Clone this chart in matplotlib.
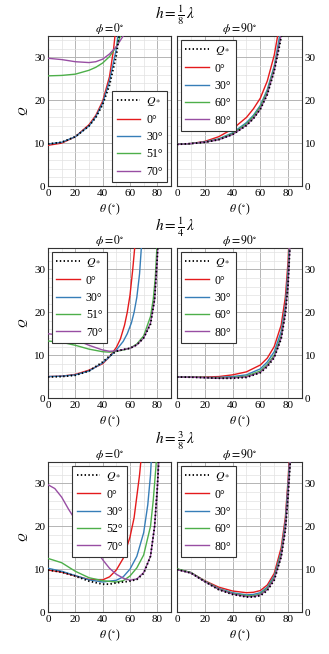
import matplotlib
matplotlib.use("Agg")
import matplotlib.pyplot as plt
from matplotlib.ticker import MultipleLocator

plt.rcParams['font.family'] = ['Liberation Serif', 'DejaVu Serif']
plt.rcParams['mathtext.fontset'] = 'stix'

# colours for the orientation curves
colors = ["#e41a1c", "#377eb8", "#4daf4a", "#984ea3"]

row_titles = [r"$h = \frac{1}{8}\,\lambda$", r"$h = \frac{1}{4}\,\lambda$",
              r"$h = \frac{3}{8}\,\lambda$"]
col_titles = [r"$\phi = 0^{\circ}$", r"$\phi = 90^{\circ}$"]

labels_phi0 = [["0°", "30°", "51°", "70°"],
               ["0°", "30°", "51°", "70°"],
               ["0°", "30°", "52°", "70°"]]
labels_phi90 = ["0°", "30°", "60°", "80°"]

# ---- h = 1/8 lambda, phi = 0
t1_qs = [0, 10, 20, 30, 35, 40, 45, 50, 52, 54]
q1_qs = [9.8, 10.2, 11.5, 14.0, 16.0, 19.0, 23.5, 30.5, 35, 40]
t1_c0 = [0, 10, 20, 30, 35, 40, 45, 48, 50]
q1_c0 = [9.5, 10.0, 11.5, 14.3, 16.5, 19.8, 25.5, 32, 38]
t1_c1 = [0, 10, 20, 30, 35, 40, 45, 50, 52]
q1_c1 = [9.8, 10.2, 11.5, 14.0, 16.2, 19.3, 24.5, 32, 37]
t1_c2 = [0, 10, 20, 30, 35, 40, 45, 50, 53, 55]
q1_c2 = [25.7, 25.8, 26.1, 27.0, 27.7, 28.7, 30.2, 32.5, 35, 37]
t1_c3 = [0, 10, 20, 30, 35, 40, 45, 50, 55, 57]
q1_c3 = [29.8, 29.5, 29.0, 28.8, 29.0, 29.6, 30.8, 32.5, 35, 37]

# ---- h = 1/8 lambda, phi = 90
t2_qs = [0, 10, 20, 30, 40, 50, 55, 60, 65, 70, 74, 77]
q2_qs = [9.7, 9.9, 10.2, 10.8, 12.0, 14.1, 15.7, 17.9, 21.3, 26.8, 33, 38]
t2_c0 = [0, 10, 20, 30, 40, 50, 55, 60, 65, 70, 73]
q2_c0 = [9.7, 9.9, 10.4, 11.5, 13.3, 16.0, 18.0, 20.5, 24.5, 30.5, 36]
t2_c1 = [0, 10, 20, 30, 40, 50, 55, 60, 65, 70, 75]
q2_c1 = [9.7, 9.9, 10.3, 11.0, 12.4, 14.8, 16.5, 18.8, 22.5, 28.0, 37]
t2_c2 = [0, 10, 20, 30, 40, 50, 55, 60, 65, 70, 75]
q2_c2 = [9.7, 9.9, 10.2, 10.9, 12.2, 14.5, 16.2, 18.5, 22.0, 27.5, 35.5]
t2_c3 = [0, 10, 20, 30, 40, 50, 55, 60, 65, 70, 76]
q2_c3 = [9.7, 9.9, 10.2, 10.8, 12.0, 14.2, 15.8, 18.0, 21.5, 27.0, 37]

# ---- h = 1/4 lambda, phi = 0
t3_qs = [0, 10, 20, 30, 40, 45, 50, 55, 60, 65, 70, 75, 78, 80, 81]
q3_qs = [4.9, 5.0, 5.3, 6.3, 8.4, 9.8, 10.9, 11.3, 11.6, 12.4, 14.0, 17.2, 23, 33, 40]
t3_c0 = [0, 10, 20, 30, 40, 45, 50, 53, 56, 58, 60, 62, 64]
q3_c0 = [5.0, 5.1, 5.5, 6.5, 8.0, 9.6, 11.8, 13.8, 17.0, 20.0, 24, 30, 37]
t3_c1 = [0, 10, 20, 30, 40, 45, 50, 55, 58, 61, 63, 65, 67, 68.5]
q3_c1 = [5.0, 5.1, 5.4, 6.3, 8.2, 9.6, 11.2, 13.2, 15.0, 17.5, 20, 23.5, 29, 36]
t3_c2 = [0, 10, 20, 30, 40, 45, 50, 55, 60, 65, 70, 75, 77, 78.5, 80]
q3_c2 = [13.3, 13.0, 12.3, 11.4, 10.8, 10.7, 10.9, 11.2, 11.6, 12.6, 14.5, 19.0, 23, 28, 37]
t3_c3 = [0, 10, 20, 30, 40, 45, 50, 55, 60, 65, 70, 75, 78, 80, 81]
q3_c3 = [15.0, 14.6, 13.6, 12.3, 11.2, 10.9, 11.0, 11.3, 11.6, 12.4, 14.0, 17.5, 23, 33, 40]

# ---- h = 1/4 lambda, phi = 90
t4_qs = [0, 10, 20, 30, 40, 50, 60, 65, 70, 75, 78, 80, 82]
q4_qs = [4.9, 4.85, 4.75, 4.6, 4.6, 4.8, 5.9, 7.3, 9.4, 13.8, 19.5, 26.5, 40]
t4_c0 = [0, 10, 20, 30, 40, 50, 60, 65, 70, 75, 78, 80, 81]
q4_c0 = [4.9, 4.9, 4.9, 5.0, 5.4, 6.1, 7.7, 9.3, 12.0, 17.0, 23.5, 32, 40]
t4_c1 = [0, 10, 20, 30, 40, 50, 60, 65, 70, 75, 78, 80, 81.5]
q4_c1 = [4.9, 4.85, 4.8, 4.8, 5.0, 5.4, 6.8, 8.4, 10.8, 15.5, 21.5, 30, 40]
t4_c2 = [0, 10, 20, 30, 40, 50, 60, 65, 70, 75, 78, 80, 81.8]
q4_c2 = [4.9, 4.85, 4.8, 4.7, 4.8, 5.1, 6.3, 7.8, 10.0, 14.5, 20.5, 28, 40]
t4_c3 = [0, 10, 20, 30, 40, 50, 60, 65, 70, 75, 78, 80, 82]
q4_c3 = [4.9, 4.85, 4.75, 4.6, 4.7, 4.9, 6.0, 7.5, 9.6, 14.0, 20, 27, 40]

# ---- h = 3/8 lambda, phi = 0
t5_qs = [0, 10, 20, 30, 40, 45, 50, 55, 60, 65, 70, 75, 78, 80, 81.5]
q5_qs = [9.8, 9.3, 8.4, 7.2, 6.5, 6.5, 6.8, 7.0, 7.2, 7.6, 9.0, 13.0, 20, 29, 38]
t5_c0 = [0, 10, 20, 30, 40, 45, 50, 55, 60, 63, 65, 67, 68.5]
q5_c0 = [9.8, 9.3, 8.4, 7.6, 7.5, 8.2, 9.8, 12.5, 17.5, 22, 27, 32, 37]
t5_c1 = [0, 10, 20, 30, 40, 50, 55, 60, 65, 70, 73, 75, 76]
q5_c1 = [10.2, 9.5, 8.5, 7.5, 7.0, 7.4, 8.2, 10.0, 13.0, 18.5, 25, 32, 38]
t5_c2 = [0, 10, 20, 30, 40, 50, 55, 60, 65, 70, 75, 77, 79, 80]
q5_c2 = [12.5, 11.5, 9.5, 8.0, 7.3, 7.0, 7.3, 8.4, 10.3, 13.3, 20, 26, 34, 39]
t5_c3 = [0, 5, 10, 15, 20, 25, 30, 35, 40, 45, 50, 55, 60, 65, 70, 75, 78, 80, 81.5]
q5_c3 = [29.7, 28.8, 26.8, 24.0, 21.5, 19.0, 16.8, 14.5, 12.2, 10.2, 8.8, 7.9, 7.4,
         7.7, 9.2, 13.0, 20, 29, 38]

# ---- h = 3/8 lambda, phi = 90
t6_qs = [0, 10, 20, 30, 40, 50, 55, 60, 65, 70, 75, 78, 80, 82.5]
q6_qs = [9.9, 9.1, 7.1, 5.2, 4.1, 3.5, 3.5, 3.8, 5.0, 7.4, 12.8, 19, 27, 40]
t6_c0 = [0, 10, 20, 30, 40, 50, 55, 60, 65, 70, 75, 78, 80, 81.5]
q6_c0 = [10.0, 9.2, 7.3, 5.8, 4.9, 4.5, 4.6, 5.0, 6.3, 9.0, 15.0, 22, 31, 40]
t6_c1 = [0, 10, 20, 30, 40, 50, 55, 60, 65, 70, 75, 78, 80, 82]
q6_c1 = [10.0, 9.2, 7.2, 5.5, 4.5, 4.0, 4.1, 4.5, 5.8, 8.4, 14.0, 21, 30, 40]
t6_c2 = [0, 10, 20, 30, 40, 50, 55, 60, 65, 70, 75, 78, 80, 82]
q6_c2 = [10.1, 9.2, 7.2, 5.4, 4.3, 3.8, 3.8, 4.2, 5.5, 8.0, 13.5, 20, 28.5, 38]
t6_c3 = [0, 10, 20, 30, 40, 50, 55, 60, 65, 70, 75, 78, 80, 82.5]
q6_c3 = [9.9, 9.1, 7.1, 5.3, 4.2, 3.6, 3.6, 4.0, 5.2, 7.7, 13.0, 19.5, 28, 40]

panels = [
    [(t1_qs, q1_qs), [(t1_c0, q1_c0), (t1_c1, q1_c1), (t1_c2, q1_c2), (t1_c3, q1_c3)]],
    [(t2_qs, q2_qs), [(t2_c0, q2_c0), (t2_c1, q2_c1), (t2_c2, q2_c2), (t2_c3, q2_c3)]],
    [(t3_qs, q3_qs), [(t3_c0, q3_c0), (t3_c1, q3_c1), (t3_c2, q3_c2), (t3_c3, q3_c3)]],
    [(t4_qs, q4_qs), [(t4_c0, q4_c0), (t4_c1, q4_c1), (t4_c2, q4_c2), (t4_c3, q4_c3)]],
    [(t5_qs, q5_qs), [(t5_c0, q5_c0), (t5_c1, q5_c1), (t5_c2, q5_c2), (t5_c3, q5_c3)]],
    [(t6_qs, q6_qs), [(t6_c0, q6_c0), (t6_c1, q6_c1), (t6_c2, q6_c2), (t6_c3, q6_c3)]],
]

W, H = 329, 654
fig = plt.figure(figsize=(W / 100, H / 100), dpi=100)

# axes boxes in pixels: (left, right), (top, bottom)
col_px = [(48, 171), (177, 302)]
row_px = [(36, 186), (248, 398), (462, 612)]

# legend placement per panel (loc, bbox)
leg_place = [("lower right", None), ("upper left", None),
             ("upper left", None), ("upper left", None),
             ("upper left", (0.165, 1.0)), ("upper left", None)]

for r in range(3):
    for c in range(2):
        idx = 2 * r + c
        x0, x1 = col_px[c]
        y0, y1 = row_px[r]
        ax = fig.add_axes([x0 / W, 1 - y1 / H, (x1 - x0) / W, (y1 - y0) / H])
        ax.set_xlim(0, 90)
        ax.set_ylim(0, 35)
        ax.xaxis.set_major_locator(MultipleLocator(20))
        ax.xaxis.set_minor_locator(MultipleLocator(10))
        ax.yaxis.set_major_locator(MultipleLocator(10))
        ax.yaxis.set_minor_locator(MultipleLocator(2))
        ax.grid(which="major", color="#b4b4b4", lw=0.7)
        ax.grid(which="minor", color="#e2e2e2", lw=0.5)
        ax.set_axisbelow(True)
        ax.tick_params(which="both", length=0, labelsize=8, pad=2)
        for s in ax.spines.values():
            s.set_color("#333333")
            s.set_linewidth(0.8)

        (tq, qq), curves = panels[idx]
        ax.plot(tq, qq, color="black", ls=(0, (0.8, 1.3)), lw=1.3, label=r"$Q_*$", zorder=5)
        labs = labels_phi0[r] if c == 0 else labels_phi90
        for k, (tt, qv) in enumerate(curves):
            ax.plot(tt, qv, color=colors[k], lw=1.0, label=labs[k], zorder=3)

        ax.set_xlabel(r"$\theta$ ($^{\circ}$)", fontsize=8.5, labelpad=3)
        ax.set_title(col_titles[c], fontsize=8.5, pad=3)
        if c == 0:
            ax.set_ylabel(r"$Q$", fontsize=8.5, labelpad=3)
        else:
            ax.yaxis.tick_right()

        loc, bb = leg_place[idx]
        kw = dict(loc=loc, fontsize=8.5, frameon=True, fancybox=False,
                  edgecolor="#333333", framealpha=1, handlelength=2.0,
                  handletextpad=0.5, borderpad=0.4, labelspacing=0.45,
                  borderaxespad=0.3)
        if bb is not None:
            kw["bbox_to_anchor"] = bb
        leg = ax.legend(**kw)
        leg.get_frame().set_linewidth(0.8)

    fig.text((48 + 302) / 2 / W, 1 - (row_px[r][0] - 21) / H, row_titles[r],
             ha="center", va="center", fontsize=11)

fig.savefig("out.png", dpi=100)
